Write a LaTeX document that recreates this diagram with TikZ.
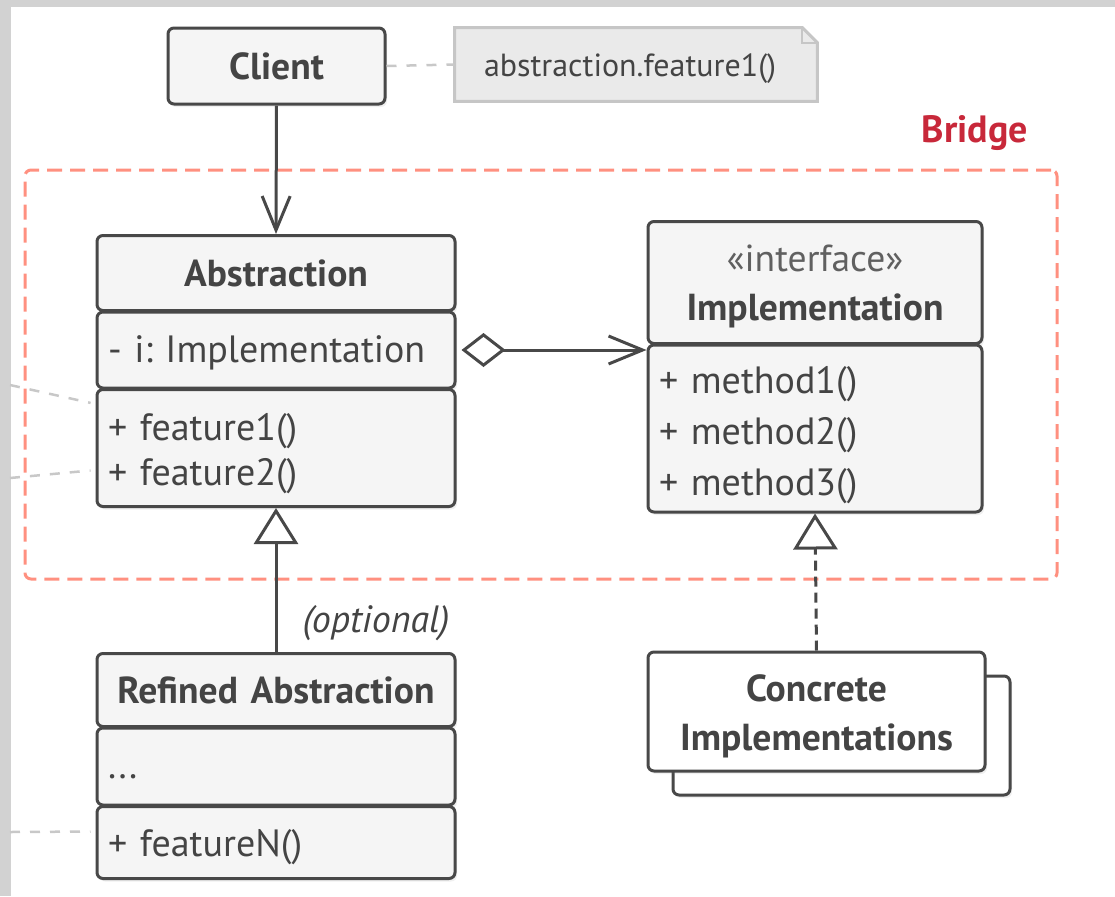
\documentclass[tikz,border=0pt]{standalone}
\usepackage{fontspec}
\setmainfont{PT Sans}
\usepackage{tikz}
\usetikzlibrary{arrows.meta}
\usetikzlibrary{positioning}
\usetikzlibrary{shadows}
\usetikzlibrary{backgrounds}
\frenchspacing

\definecolor{umlline}{HTML}{484848}
\definecolor{umltext}{HTML}{444444}
\definecolor{umlfill}{HTML}{F5F5F5}
\definecolor{notefill}{HTML}{EAEAEA}
\definecolor{noteline}{HTML}{C6C6C6}
\definecolor{linkgray}{HTML}{C8C8C8}
\definecolor{bridgeline}{HTML}{FF9080}
\definecolor{bridgetext}{HTML}{C8283A}
\definecolor{framegray}{HTML}{D2D2D2}

% move a line of text down without changing its box
\newcommand{\dropline}[2][2.5pt]{\raisebox{-#1}[\height][\depth]{#2}}

\tikzset{
    classbox/.style={draw=umlline, fill=umlfill, line width=1.5pt, rounded corners=3pt,
        text=umltext, inner xsep=5.5pt, inner ysep=0pt,
        font=\fontsize{19}{22.5}\selectfont,
        drop shadow={opacity=0.12, shadow xshift=1pt, shadow yshift=-1.5pt}},
    classhead/.style={classbox, align=center, font=\fontsize{18.8}{24.5}\selectfont\bfseries},
    classbody/.style={classbox, align=left},
    link/.style={draw=linkgray, line width=1.25pt, dash pattern=on 5pt off 5pt},
    assoc/.style={draw=umlline, line width=1.5pt, -{Straight Barb[length=17pt,width=14pt]}},
    aggr/.style={assoc, {Diamond[open,length=22pt,width=17pt]}-{Straight Barb[length=17pt,width=14pt]}},
    inherit/.style={draw=umlline, line width=1.5pt, -{Triangle[open,length=18pt,width=22pt]}},
    realize/.style={inherit, dash pattern=on 5pt off 3pt},
}

\begin{document}
\begin{tikzpicture}[x=0.5pt, y=-0.5pt]
    \useasboundingbox (0,0) rectangle (1115,896);
    \fill[framegray] (0,0) rectangle (1115,7);
    \fill[framegray] (0,0) rectangle (11,896);

    % bridge frame
    \node[draw=bridgeline, line width=1.5pt, dash pattern=on 7.5pt off 4pt, rounded corners=3pt,
        minimum width=516pt, minimum height=204.5pt] (bridge) at (541,374.5) {};
    \node[anchor=south east, inner sep=0pt, text=bridgetext, font=\fontsize{19}{22}\selectfont\bfseries]
        (bridgelabel) at ([xshift=-15pt,yshift=9pt]bridge.north east) {Bridge};

    % client and note
    \node[classhead, text width=97.5pt, minimum height=38pt] (client) at (276.5,66) {Client};
    \node[text=umltext, font=\fontsize{16}{20}\selectfont, minimum width=181pt, minimum height=36.5pt,
        text width=152pt, align=left, inner xsep=14.5pt] (note) at (636,64.5) {\dropline[2pt]{abstraction.feature1()}};
    \begin{scope}[on background layer]
        \filldraw[fill=notefill, draw=noteline, line width=1.5pt]
            (note.south west) -- (note.north west) -- ([xshift=-7.5pt]note.north east)
            -- ([yshift=-7.5pt]note.north east) -- (note.south east) -- cycle;
        \draw[noteline, line width=1pt] ([xshift=-7.5pt]note.north east) |- ([yshift=-7.5pt]note.north east);
    \end{scope}

    % abstraction
    \node[classhead, text width=168pt, minimum height=37.5pt, anchor=north] (abshead) at (276,234) {Abstraction};
    \node[classbody, text width=168pt, minimum height=38pt, below=-0.75pt of abshead] (absattr)
        {\dropline[1.5pt]{- i: Implementation}};
    \node[classbody, text width=168pt, minimum height=58.5pt, below=-0.75pt of absattr] (absmeth)
        {\dropline[3pt]{+ feature1()}\\\dropline[3pt]{+ feature2()}};

    % implementation
    \node[classhead, text width=156pt, minimum height=61pt, anchor=north] (implhead) at (815,220)
        {\dropline[2pt]{\mdseries\textcolor{umltext!85!white}{«interface»}}\\\dropline[2pt]{Implementation}};
    \node[classbody, text width=156pt, minimum height=83.5pt, below=-0.75pt of implhead,
        font=\fontsize{19}{25.5}\selectfont] (implmeth)
        {\dropline[3.25pt]{+ method1()}\\\dropline[3.25pt]{+ method2()}\\\dropline[3.25pt]{+ method3()}};

    % refined abstraction
    \node[classhead, text width=168pt, minimum height=36.5pt, anchor=north] (refhead) at (276,652) {Refined Abstraction};
    \node[classbody, text width=168pt, minimum height=38.5pt, below=-0.75pt of refhead] (refattr) {\dropline[5pt]{...}};
    \node[classbody, text width=168pt, minimum height=36pt, below=-0.75pt of refattr] (refmeth) {\dropline{+ featureN()}};
    \node[anchor=south east, text=umltext, font=\fontsize{19}{22}\selectfont\itshape]
        (optlabel) at ([xshift=0pt,yshift=2pt]refhead.north east) {(optional)};

    % concrete implementations
    \node[classhead, fill=white, text width=157.5pt, minimum height=59.5pt] (concreteback) at (841.5,735.5) {};
    \node[classhead, fill=white, text width=157.5pt, minimum height=59.5pt] (concrete) at (816.5,711.5)
        {\dropline{Concrete}\\\dropline{Implementations}};

    % connectors
    \draw[link] (client.east) -- (note.west);
    \draw[assoc] (client.south) -- (abshead.north);
    \draw[aggr] ([xshift=2.5pt]absattr.east) -- (absattr.east -| implmeth.west);
    \draw[inherit] (refhead.north) -- (absmeth.south);
    \draw[realize] (concrete.north) -- (implmeth.south);

    % links to notes outside the view
    \coordinate (leftnote1) at (10,385);
    \coordinate (leftnote2) at (10,478);
    \coordinate (leftnote3) at (10,832);
    \draw[link, shorten >=2.5pt] (leftnote1) -- ([yshift=22pt]absmeth.west);
    \draw[link, shorten >=2.5pt] (leftnote2) -- ([yshift=-11pt]absmeth.west);
    \draw[link, shorten >=2.5pt] (leftnote3) -- ([yshift=5.5pt]refmeth.west);
\end{tikzpicture}
\end{document}
